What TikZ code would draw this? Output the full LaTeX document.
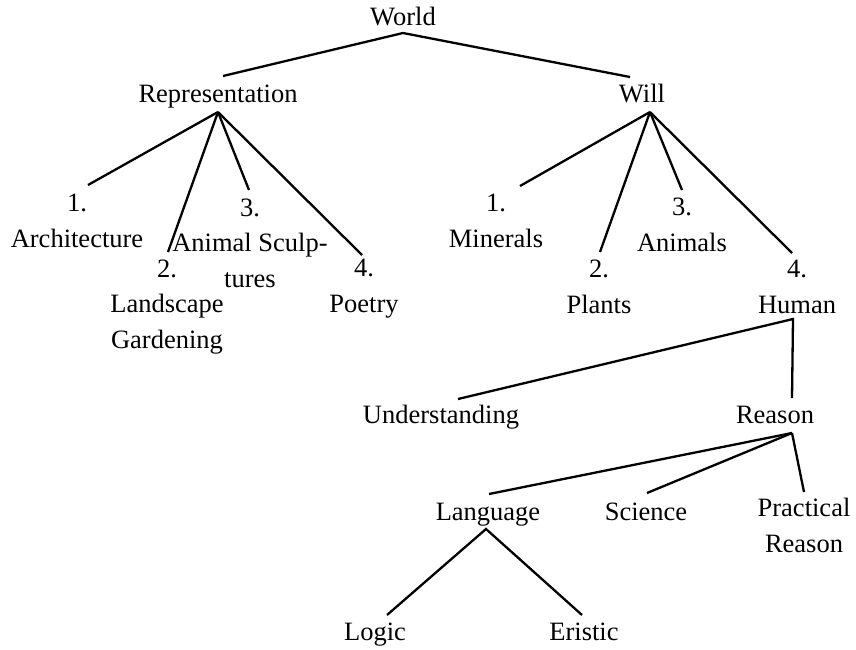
\documentclass[tikz,border=0pt]{standalone}
\usepackage{fontspec}
\setmainfont{Liberation Serif}
\begin{document}
\begin{tikzpicture}[x=1pt,y=-1pt,
  lbl/.style={anchor=base,inner sep=0pt,align=center,
    font=\fontsize{26.5}{35.5}\selectfont},
  branch/.style={line width=2.3pt}]
\useasboundingbox (0,0) rectangle (856,649);

% labels (each placed by the baseline of its last line)
\node[lbl] (world)  at (403,25)  {World};
\node[lbl] (rep)    at (218,102) {Representation};
\node[lbl] (will)   at (642,102) {Will};
\node[lbl] (arch)   at (77,247)  {1.\\Architecture};
\node[lbl] (land)   at (167,348) {2.\\Landscape\\Gardening};
\node[lbl] (sculp)  at (250,287) {3.\\Animal Sculp-\\tures};
\node[lbl] (poet)   at (364,312) {4.\\Poetry};
\node[lbl] (mine)   at (496,247) {1.\\Minerals};
\node[lbl] (plant)  at (599,313) {2.\\Plants};
\node[lbl] (anim)   at (682,251) {3.\\Animals};
\node[lbl] (human)  at (797,313) {4.\\Human};
\node[lbl] (under)  at (441,423) {Understanding};
\node[lbl] (reason) at (775,423) {Reason};
\node[lbl] (lang)   at (488,520) {Language};
\node[lbl] (sci)    at (646,520) {Science};
\node[lbl] (prac)   at (804,552) {Practical\\Reason};
\node[lbl] (logic)  at (375,640) {Logic};
\node[lbl] (eris)   at (584,640) {Eristic};

% branching points and line ends
\coordinate (world-hub)  at (403,33);
\coordinate (rep-top)    at (223,76);
\coordinate (will-top)   at (630,77);
\coordinate (rep-hub)    at (218,112);
\coordinate (arch-top)   at (88,185);
\coordinate (land-top)   at (168,252);
\coordinate (sculp-top)  at (249,190);
\coordinate (poet-top)   at (362,255);
\coordinate (will-hub)   at (650,112);
\coordinate (mine-top)   at (520,186);
\coordinate (plant-top)  at (600,252);
\coordinate (anim-top)   at (682,190);
\coordinate (human-top)  at (792,253);
\coordinate (human-hub)  at (793,319);
\coordinate (under-top)  at (458,399);
\coordinate (reason-top) at (792,398);
\coordinate (reason-hub) at (792,433);
\coordinate (lang-top)   at (489,494);
\coordinate (sci-top)    at (647,493);
\coordinate (prac-top)   at (804,492);
\coordinate (lang-hub)   at (486,529);
\coordinate (logic-top)  at (387,615);
\coordinate (eris-top)   at (582,615);

% tree branches
\draw[branch] (rep-top) -- (world-hub) -- (will-top);
\foreach \c in {arch,land,sculp,poet}
  \draw[branch] (rep-hub) -- (\c-top);
\foreach \c in {mine,plant,anim,human}
  \draw[branch] (will-hub) -- (\c-top);
\draw[branch] (under-top) -- (human-hub) -- (reason-top);
\foreach \c in {lang,sci,prac}
  \draw[branch] (reason-hub) -- (\c-top);
\draw[branch] (logic-top) -- (lang-hub) -- (eris-top);
\end{tikzpicture}
\end{document}
